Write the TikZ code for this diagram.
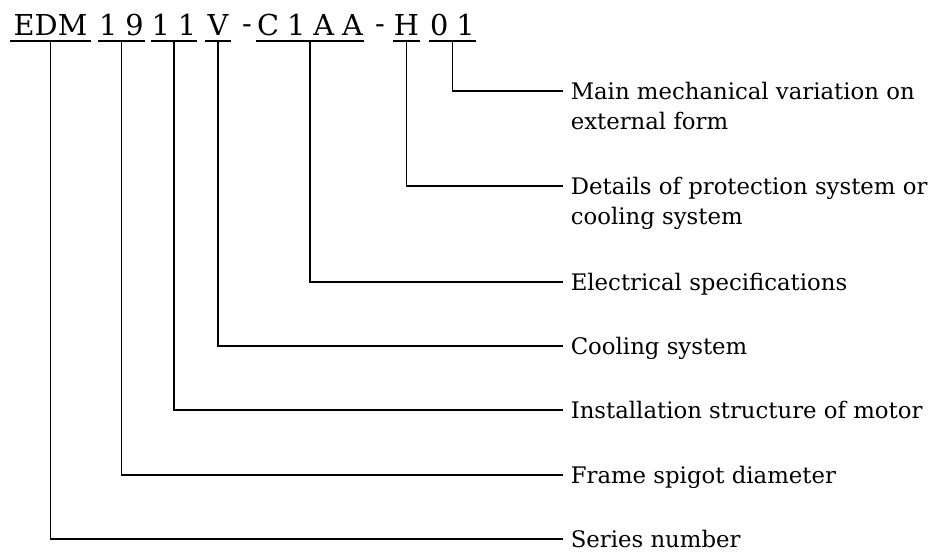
\documentclass[tikz,border=0pt]{standalone}
\usepackage{fontspec}
\setmainfont{DejaVu Serif}
\newcommand{\cgap}{\hspace{4pt}}
\begin{document}
\begin{tikzpicture}[x=0.5pt, y=-0.5pt, line width=0.8pt,
  code/.style={anchor=base, inner xsep=0pt, inner ysep=2.5pt, text depth=0pt,
    font=\fontsize{14.4}{16}\selectfont},
  lbl/.style={anchor=base west, inner sep=0pt, align=left,
    font=\fontsize{11.4}{15}\selectfont, xshift=3.5pt, yshift=-4.1pt},
  lbltwo/.style={lbl, yshift=-15pt}]

\useasboundingbox (0,0) rectangle (947,552);

% type code
\node[code, minimum width=39.5pt] (sEDM) at ( 50.5,35) {EDM};
\node[code, minimum width=22.5pt] (s19)  at (121.5,35) {1\cgap9};
\node[code, minimum width=22pt]   (s11)  at (174,  35) {1\cgap1};
\node[code, minimum width=12pt]   (sV)   at (218,  35) {V};
\node[code]                       (d1)   at (247,  33) {-};
\node[code, minimum width=53pt]   (sC)   at (310,  35) {C\cgap1\cgap A\cgap A};
\node[code]                       (d2)   at (380,  33) {-};
\node[code, minimum width=12.5pt] (sH)   at (406.5,35) {H};
\node[code, minimum width=22.5pt] (s01)  at (452.5,35) {0\cgap1};

\foreach \s in {sEDM,s19,s11,sV,sC,sH,s01}
{
    \draw (\s.south west) -- (\s.south east);
}

% line ends
\coordinate (e01)  at (563, 91);
\coordinate (eH)   at (563,186);
\coordinate (eC)   at (563,282);
\coordinate (eV)   at (563,346);
\coordinate (e11)  at (563,410);
\coordinate (e19)  at (563,475);
\coordinate (eEDM) at (563,539);

\foreach \s/\e in {s01/e01,sH/eH,sC/eC,sV/eV,s11/e11,s19/e19,sEDM/eEDM}
{
    \draw (\s.south) |- (\e);
}

\node[lbltwo] (l01) at (e01) {Main mechanical variation on\\external form};
\node[lbltwo] (lH)  at (eH)  {Details of protection system or\\cooling system};
\node[lbl] (lC)   at (eC)   {Electrical specifications};
\node[lbl] (lV)   at (eV)   {Cooling system};
\node[lbl] (l11)  at (e11)  {Installation structure of motor};
\node[lbl] (l19)  at (e19)  {Frame spigot diameter};
\node[lbl] (lEDM) at (eEDM) {Series number};

\end{tikzpicture}
\end{document}
